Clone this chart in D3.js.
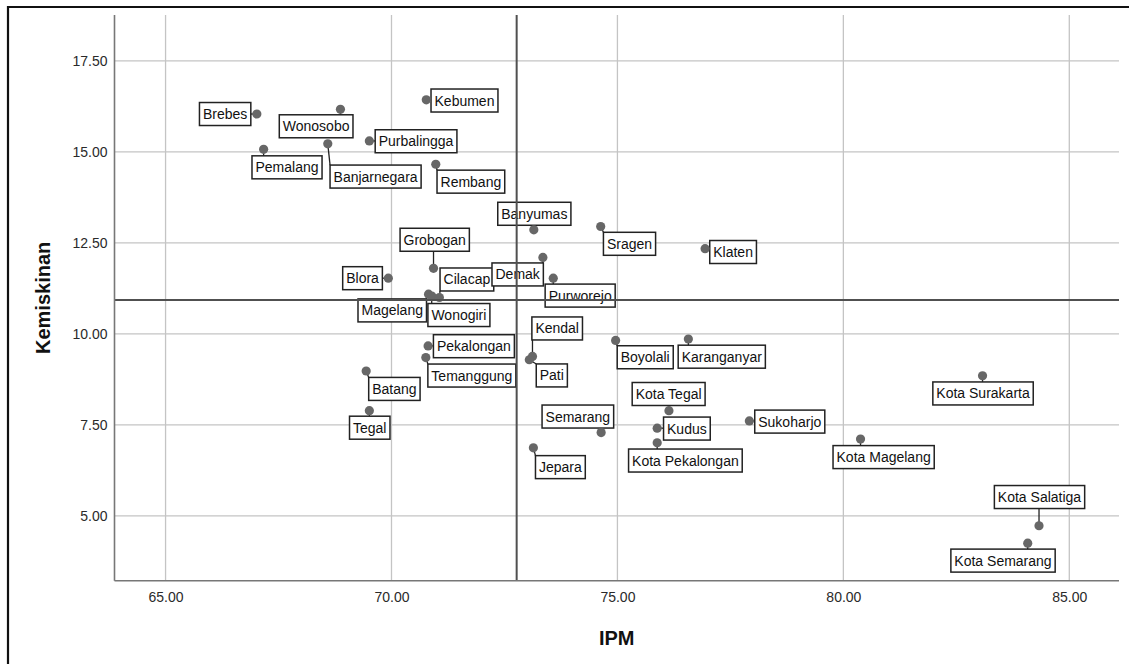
<!DOCTYPE html>
<html>
<head>
<meta charset="utf-8">
<script src="https://cdn.jsdelivr.net/npm/d3@7/dist/d3.min.js"></script>
<style>
  html, body { margin: 0; padding: 0; background: #fff; }
  svg { display: block; }
</style>
</head>
<body>
<svg id="chart" width="1129" height="664"></svg>
<script>
// ---------- DATA ----------
const names = ["Brebes","Wonosobo","Pemalang","Banjarnegara","Purbalingga","Kebumen","Rembang",
  "Banyumas","Sragen","Klaten","Grobogan","Blora","Magelang","Wonogiri","Cilacap","Demak",
  "Purworejo","Kendal","Pati","Pekalongan","Temanggung","Boyolali","Karanganyar","Kota Tegal",
  "Kudus","Sukoharjo","Kota Pekalongan","Semarang","Jepara","Batang","Tegal","Kota Surakarta",
  "Kota Magelang","Kota Salatiga","Kota Semarang"];
const ipm = [67.02,68.87,67.17,68.59,69.51,70.77,70.98,
  73.15,74.63,76.94,70.93,69.93,70.82,70.89,71.06,73.35,
  73.58,73.12,73.05,70.81,70.76,74.96,76.57,76.14,
  75.88,77.92,75.88,74.64,73.14,69.44,69.51,83.08,
  80.38,84.33,84.08];
const kemiskinan = [16.04,16.17,15.07,15.22,15.30,16.43,14.66,
  12.86,12.95,12.34,11.80,11.53,11.09,11.04,11.00,12.10,
  11.53,9.38,9.29,9.67,9.35,9.82,9.86,7.89,
  7.41,7.61,7.01,7.29,6.87,8.98,7.89,8.85,
  7.11,4.73,4.25];
const xTicks = [65, 70, 75, 80, 85];
const yTicks = [5, 7.5, 10, 12.5, 15, 17.5];
const refIPM = 72.77;
const refKemiskinan = 10.93;

// label box centre offsets from the point (layout, px)
const labelOffsets = [[-31.7,0],[-24.3,17],[23.4,18],[47.8,32.7],[46.7,0.3],[38.2,0.7],[35.1,17.4],
  [0.5,-16],[28.8,17.3],[28,3.3],[1.2,-28.6],[-25.8,0],[-36.3,16.2],[27.2,19],[27.5,-18],[-25.2,17],
  [26.9,17.4],[24.7,-28],[22.5,15.7],[45.8,0.3],[46,18],[29.6,16.8],[33.4,17.7],[-0.3,-16.7],
  [29.7,0.4],[40.4,0.7],[28.2,17.8],[-23.3,-16],[27,19.3],[28.2,17.9],[0.4,17],[0.5,17.7],
  [23.1,18],[0.5,-28.7],[-24.7,17.4]];

// ---------- LAYOUT ----------
const plot = { left: 114.5, right: 1119, top: 15, bottom: 580.7 };
const FONT = "'Liberation Sans', Arial, Helvetica, sans-serif";

const svg = d3.select("#chart");

const x = d3.scaleLinear().domain([63.87, 86.1]).range([plot.left, plot.right]);
const y = d3.scaleLinear().domain([3.22, 18.76]).range([plot.bottom, plot.top]);

// outer frame
svg.append("path")
  .attr("d", "M8,670 L8,7 L1135,7")
  .attr("fill", "none").attr("stroke", "#111").attr("stroke-width", 2.2);

// gridlines
const grid = svg.append("g");
grid.selectAll("line.vg").data(xTicks).join("line")
  .attr("x1", d => x(d)).attr("x2", d => x(d))
  .attr("y1", plot.top).attr("y2", plot.bottom)
  .attr("stroke", "#c4c4c4").attr("stroke-width", 1.3);
grid.selectAll("line.hg").data(yTicks).join("line")
  .attr("y1", d => y(d)).attr("y2", d => y(d))
  .attr("x1", plot.left).attr("x2", plot.right)
  .attr("stroke", "#c4c4c4").attr("stroke-width", 1.3);

// axes (no tick marks)
const xAxis = d3.axisBottom(x).tickValues(xTicks).tickFormat(d3.format(".2f")).tickSize(0).tickPadding(11);
const yAxis = d3.axisLeft(y).tickValues(yTicks).tickFormat(d3.format(".2f")).tickSize(0).tickPadding(7);

const gx = svg.append("g").attr("transform", `translate(0,${plot.bottom})`).call(xAxis);
const gy = svg.append("g").attr("transform", `translate(${plot.left},0)`).call(yAxis);
[gx, gy].forEach(g => {
  g.select(".domain").remove();
  g.selectAll("text").attr("font-family", FONT).attr("font-size", 14).attr("fill", "#2a2a2a");
});

// labels and leader lines
const labels = svg.append("g");
names.forEach((n, i) => {
  const px = x(ipm[i]), py = y(kemiskinan[i]);
  const cx = px + labelOffsets[i][0], cy = py + labelOffsets[i][1];
  const g = labels.append("g");
  const t = g.append("text")
    .attr("x", cx).attr("y", cy)
    .attr("text-anchor", "middle").attr("dominant-baseline", "central")
    .attr("font-family", FONT).attr("font-size", 14).attr("fill", "#111")
    .text(n);
  const w = t.node().getComputedTextLength() + 7;
  const h = 23;
  const bx = cx - w / 2, by = cy - h / 2;
  const nx = Math.max(bx, Math.min(px, bx + w));
  const ny = Math.max(by, Math.min(py, by + h));
  const dist = Math.hypot(nx - px, ny - py);
  if (dist > 0.5) {
    labels.insert("line", ":first-child")
      .attr("x1", px).attr("y1", py).attr("x2", nx).attr("y2", ny)
      .attr("stroke", "#222").attr("stroke-width", 1.3);
  }
  g.insert("rect", "text")
    .attr("x", bx).attr("y", by).attr("width", w).attr("height", h)
    .attr("fill", "#fff").attr("stroke", "#222").attr("stroke-width", 1.5);
});

// points
svg.append("g").selectAll("circle").data(names).join("circle")
  .attr("cx", (d, i) => x(ipm[i]))
  .attr("cy", (d, i) => y(kemiskinan[i]))
  .attr("r", 4.6)
  .attr("fill", "#676767");

// reference lines
svg.append("line")
  .attr("x1", x(refIPM)).attr("x2", x(refIPM))
  .attr("y1", plot.top).attr("y2", plot.bottom)
  .attr("stroke", "#505050").attr("stroke-width", 2);
svg.append("line")
  .attr("y1", y(refKemiskinan)).attr("y2", y(refKemiskinan))
  .attr("x1", plot.left).attr("x2", plot.right)
  .attr("stroke", "#505050").attr("stroke-width", 2);

// axis lines
svg.append("line")
  .attr("x1", plot.left).attr("x2", plot.left).attr("y1", plot.top).attr("y2", plot.bottom)
  .attr("stroke", "#777").attr("stroke-width", 1.6);
svg.append("line")
  .attr("x1", plot.left).attr("x2", plot.right).attr("y1", plot.bottom).attr("y2", plot.bottom)
  .attr("stroke", "#777").attr("stroke-width", 1.6);

// axis titles
svg.append("text")
  .attr("x", (plot.left + plot.right) / 2).attr("y", 645)
  .attr("text-anchor", "middle")
  .attr("font-family", FONT).attr("font-size", 20).attr("font-weight", "bold").attr("fill", "#111")
  .text("IPM");
svg.append("text")
  .attr("transform", `translate(50,${(plot.top + plot.bottom) / 2}) rotate(-90)`)
  .attr("text-anchor", "middle")
  .attr("font-family", FONT).attr("font-size", 20).attr("font-weight", "bold").attr("fill", "#111")
  .text("Kemiskinan");
</script>
</body>
</html>
